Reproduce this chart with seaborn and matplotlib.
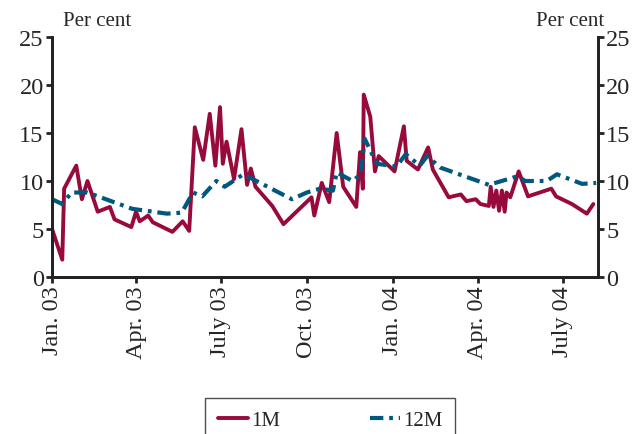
import pandas as pd
import numpy as np
import matplotlib.pyplot as plt
import seaborn as sns

# 1M series
dates_1m = ['2003-01-01', '2003-01-12', '2003-01-14', '2003-01-27', '2003-02-02', '2003-02-08',
            '2003-02-19', '2003-03-04', '2003-03-09', '2003-03-27', '2003-04-01', '2003-04-05',
            '2003-04-14', '2003-04-19', '2003-05-10', '2003-05-21', '2003-05-28', '2003-06-03',
            '2003-06-12', '2003-06-19', '2003-06-25', '2003-06-30', '2003-07-03', '2003-07-07',
            '2003-07-15', '2003-07-23', '2003-07-29', '2003-08-02', '2003-08-07', '2003-08-25',
            '2003-09-06', '2003-10-06', '2003-10-09', '2003-10-17', '2003-10-25', '2003-11-02',
            '2003-11-09', '2003-11-23', '2003-11-27', '2003-11-30', '2003-12-01', '2003-12-08',
            '2003-12-13', '2003-12-17', '2004-01-03', '2004-01-13', '2004-01-16', '2004-01-28',
            '2004-02-08', '2004-02-13', '2004-03-01', '2004-03-14', '2004-03-20', '2004-03-30',
            '2004-04-04', '2004-04-13', '2004-04-15', '2004-04-18', '2004-04-21', '2004-04-24',
            '2004-04-27', '2004-04-30', '2004-05-02', '2004-05-06', '2004-05-15', '2004-05-25',
            '2004-06-19', '2004-06-24', '2004-07-11', '2004-07-27', '2004-08-03']
vals_1m = [5.0, 1.8, 9.2, 11.6, 8.1, 10.0,
           6.8, 7.3, 6.0, 5.2, 6.8, 5.8,
           6.4, 5.7, 4.7, 5.8, 4.8, 15.6,
           12.2, 17.0, 11.6, 17.7, 11.8, 14.1,
           10.2, 15.4, 9.6, 11.3, 9.4, 7.4,
           5.5, 8.3, 6.4, 9.8, 7.8, 15.0,
           9.4, 7.3, 13.0, 9.2, 19.0, 16.7,
           11.0, 12.6, 11.0, 15.7, 12.1, 11.2,
           13.5, 11.2, 8.3, 8.6, 7.9, 8.1,
           7.6, 7.4, 9.4, 7.3, 9.0, 6.9,
           9.0, 6.8, 8.8, 8.3, 11.0, 8.4,
           9.2, 8.4, 7.6, 6.6, 7.6]

# 12M series
dates_12m = ['2003-01-01', '2003-01-12', '2003-01-22', '2003-02-08', '2003-03-28', '2003-05-04',
             '2003-05-20', '2003-06-01', '2003-06-11', '2003-06-26', '2003-07-05', '2003-07-25',
             '2003-09-15', '2003-10-01', '2003-10-15', '2003-10-29', '2003-11-02', '2003-11-19',
             '2003-11-28', '2003-12-02', '2003-12-15', '2004-01-05', '2004-01-15', '2004-01-30',
             '2004-02-07', '2004-02-21', '2004-04-13', '2004-05-14', '2004-05-22', '2004-06-14',
             '2004-06-25', '2004-07-22', '2004-08-06']
vals_12m = [8.1, 7.6, 8.8, 8.8, 7.1, 6.6,
            6.7, 8.8, 8.4, 10.0, 9.4, 10.7,
            8.1, 8.8, 9.2, 9.0, 10.9, 10.0,
            10.7, 14.4, 11.8, 11.5, 12.8, 11.6,
            12.6, 11.4, 9.6, 10.5, 10.0, 10.0,
            10.7, 9.7, 9.8]

tick_dates = ['2003-01-01', '2003-04-01', '2003-07-01', '2003-10-01',
              '2004-01-01', '2004-04-01', '2004-07-01']
tick_labels = ['Jan. 03', 'Apr. 03', 'July 03', 'Oct. 03', 'Jan. 04', 'Apr. 04', 'July 04']

df1 = pd.DataFrame({'date': pd.to_datetime(dates_1m), 'value': vals_1m})
df12 = pd.DataFrame({'date': pd.to_datetime(dates_12m), 'value': vals_12m})

sns.set_style("ticks")
plt.rcParams['font.family'] = ['Liberation Serif', 'DejaVu Serif']
plt.rcParams['font.size'] = 15

red = '#990a3c'
blue = '#00587e'

fig = plt.figure(figsize=(6.42, 4.35), dpi=100)
ax = fig.add_axes([0.081, 0.361, 0.8505, 0.5515])

sns.lineplot(data=df1, x='date', y='value', ax=ax, color=red, lw=2.8, label='1M',
             errorbar=None, estimator=None)
sns.lineplot(data=df12, x='date', y='value', ax=ax, color=blue, lw=3.0, label='12M',
             errorbar=None, estimator=None)
ax.lines[1].set_dashes([3.2, 1.4, 0.9, 1.4])

ax.set_xlim(pd.Timestamp('2003-01-01'), pd.Timestamp('2004-08-08'))
ax.set_ylim(0, 25)
ax.set_yticks(np.arange(0, 26, 5))
ax.set_xticks(pd.to_datetime(tick_dates))
ax.set_xticklabels(tick_labels, rotation=90)
ax.set_xlabel('')
ax.set_ylabel('')

ax2 = ax.twinx()
ax2.set_ylim(0, 25)
ax2.set_yticks(np.arange(0, 26, 5))

for a in (ax, ax2):
    a.spines['top'].set_visible(False)
    for s in a.spines.values():
        s.set_linewidth(2.0)
        s.set_color('#222222')
    a.tick_params(width=2.0, length=4, color='#222222', labelsize=17.5, pad=2)
ax.spines['right'].set_visible(True)

ax.text(0.02, 1.03, 'Per cent', transform=ax.transAxes, ha='left', va='bottom', fontsize=15)
ax.text(1.012, 1.03, 'Per cent', transform=ax.transAxes, ha='right', va='bottom', fontsize=15)

ax.get_legend().remove()
h, l = ax.get_legend_handles_labels()
leg = fig.legend(h, l, loc='upper center', bbox_to_anchor=(0.514, 0.083), ncol=2,
                 frameon=True, fancybox=False, edgecolor='#222222', fontsize=15,
                 handlelength=1.45, handletextpad=0.15, columnspacing=4.3,
                 borderpad=0.6, borderaxespad=0)
leg.get_frame().set_linewidth(1.0)

fig.savefig('out.png', dpi=100)
